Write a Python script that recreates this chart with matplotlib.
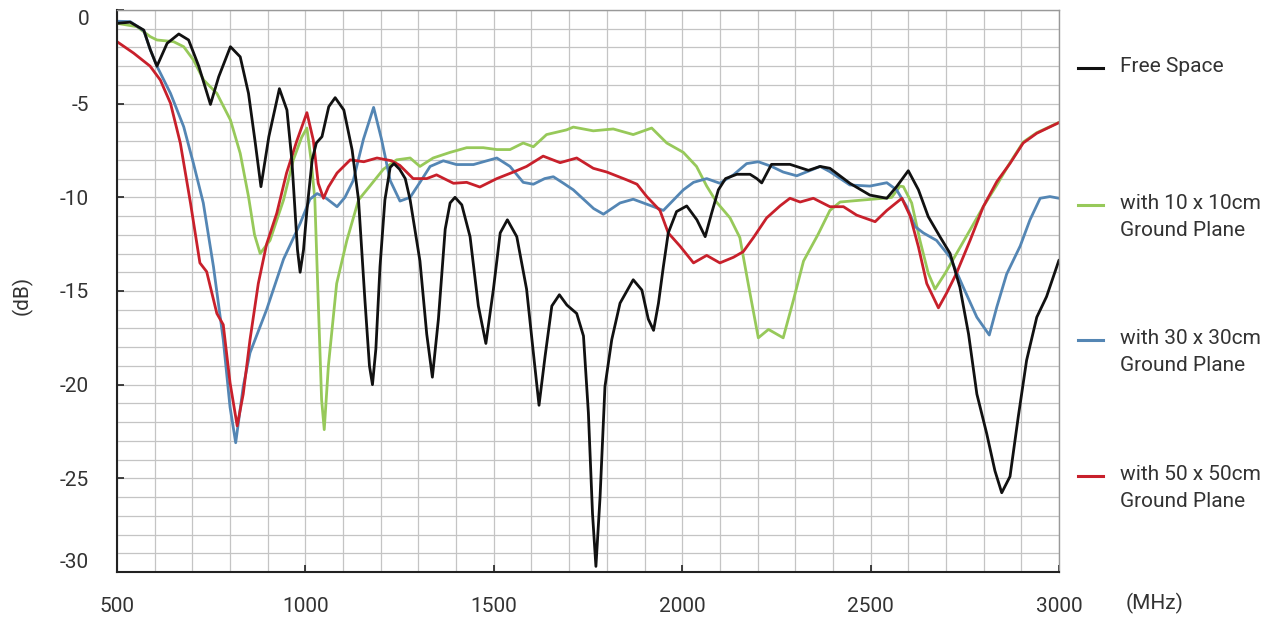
"""Return loss vs frequency: free space and three ground plane sizes."""

import matplotlib

matplotlib.use("Agg")
import matplotlib.pyplot as plt
from matplotlib.lines import Line2D
import numpy as np

plt.rcParams["font.family"] = ["Roboto", "DejaVu Sans"]
plt.rcParams["axes.unicode_minus"] = False

# values (MHz, dB)
free_f = [500, 535, 571, 588, 606, 633, 664, 690, 717, 748, 770, 801, 827, 849, 867,
          882, 903, 931, 951, 964, 979, 986, 995, 1004, 1018, 1029, 1044, 1062, 1079,
          1102, 1124, 1141, 1158, 1170, 1178, 1187, 1198, 1211, 1225, 1235, 1250, 1265,
          1278, 1304, 1322, 1337, 1353, 1371, 1384, 1397, 1415, 1437, 1459, 1479, 1499,
          1517, 1536, 1561, 1587, 1605, 1620, 1636, 1654, 1674, 1694, 1720, 1738, 1751,
          1762, 1771, 1782, 1795, 1813, 1835, 1870, 1893, 1910, 1924, 1937, 1950, 1963,
          1985, 2012, 2039, 2061, 2078, 2096, 2115, 2145, 2180, 2198, 2211, 2237, 2286,
          2335, 2366, 2392, 2445, 2498, 2543, 2569, 2600, 2627, 2653, 2684, 2711, 2737,
          2760, 2782, 2808, 2830, 2848, 2870, 2892, 2914, 2941, 2967, 3000]
free_db = [-0.71, -0.65, -1.07, -2.1, -3.0, -1.78, -1.28, -1.6, -3.0, -5.04, -3.56,
           -1.96, -2.5, -4.45, -7.1, -9.43, -6.76, -4.2, -5.34, -8.0, -12.8, -14.0,
           -12.8, -10.7, -8.0, -7.1, -6.76, -5.16, -4.68, -5.34, -7.47, -10.14, -15.5,
           -19.0, -20.0, -18.1, -13.7, -10.14, -8.4, -8.2, -8.5, -9.0, -10.14, -13.4,
           -17.3, -19.6, -16.5, -11.7, -10.3, -10.0, -10.4, -12.1, -15.8, -17.8, -14.9,
           -11.9, -11.2, -12.1, -14.9, -18.3, -21.1, -18.5, -15.8, -15.2, -15.75, -16.2,
           -17.4, -21.5, -26.9, -29.7, -26.0, -20.1, -17.6, -15.65, -14.4, -14.95,
           -16.5, -17.1, -15.65, -13.7, -11.9, -10.76, -10.46, -11.2, -12.1, -10.85,
           -9.6, -9.0, -8.77, -8.77, -9.0, -9.23, -8.24, -8.24, -8.56, -8.35, -8.45,
           -9.25, -9.88, -10.05, -9.43, -8.58, -9.6, -11.03, -12.1, -13.0, -14.8, -17.3,
           -20.5, -22.6, -24.6, -25.77, -24.9, -21.7, -18.7, -16.4, -15.3, -13.35]

g10_f = [500, 553, 588, 606, 650, 677, 703, 730, 765, 801, 827, 849, 865, 880, 906,
         942, 968, 990, 1004, 1015, 1025, 1034, 1043, 1050, 1061, 1083, 1110, 1141,
         1171, 1207, 1242, 1278, 1304, 1339, 1384, 1428, 1472, 1508, 1543, 1578, 1605,
         1640, 1693, 1711, 1764, 1817, 1870, 1919, 1959, 2003, 2038, 2065, 2091, 2127,
         2153, 2176, 2202, 2229, 2268, 2295, 2322, 2360, 2392, 2419, 2481, 2534, 2556,
         2578, 2587, 2609, 2631, 2653, 2671, 2698, 2728, 2764, 2799, 2835, 2870, 2905,
         2941, 3000]
g10_db = [-0.71, -0.89, -1.42, -1.6, -1.69, -1.96, -2.67, -3.74, -4.45, -5.87, -7.65,
          -9.96, -12.0, -13.0, -12.3, -10.14, -8.0, -6.8, -6.3, -8.0, -10.1, -15.5,
          -20.8, -22.4, -19.0, -14.6, -12.3, -10.14, -9.4, -8.5, -8.0, -7.9, -8.35,
          -7.9, -7.6, -7.35, -7.35, -7.45, -7.45, -7.1, -7.3, -6.65, -6.4, -6.25, -6.45,
          -6.35, -6.65, -6.3, -7.1, -7.6, -8.35, -9.4, -10.25, -11.1, -12.15, -14.7,
          -17.5, -17.05, -17.5, -15.5, -13.4, -12.0, -10.7, -10.25, -10.14, -10.05,
          -10.0, -9.4, -9.43, -10.3, -12.3, -14.05, -14.9, -14.05, -13.0, -11.74,
          -10.5, -9.34, -8.15, -7.05, -6.55, -6.0]

g30_f = [500, 535, 571, 588, 606, 642, 677, 703, 729, 756, 782, 800, 815, 835, 853,
         897, 942, 986, 1012, 1031, 1052, 1084, 1105, 1127, 1154, 1181, 1202, 1225,
         1251, 1278, 1304, 1331, 1366, 1401, 1446, 1508, 1543, 1578, 1605, 1635, 1658,
         1685, 1711, 1738, 1765, 1791, 1835, 1870, 1924, 1950, 2003, 2030, 2065, 2100,
         2136, 2171, 2202, 2237, 2268, 2304, 2348, 2366, 2392, 2445, 2498, 2543, 2569,
         2596, 2618, 2640, 2675, 2711, 2746, 2782, 2815, 2835, 2861, 2897, 2923, 2950,
         2976, 3000]
g30_db = [-0.6, -0.62, -1.1, -2.1, -3.0, -4.45, -6.23, -8.2, -10.3, -13.7, -17.6, -21.2,
          -23.1, -20.1, -18.3, -16.0, -13.3, -11.4, -10.1, -9.8, -10.0, -10.5, -10.0,
          -9.1, -6.9, -5.2, -6.9, -9.1, -10.2, -10.0, -9.2, -8.35, -8.05, -8.25, -8.25,
          -7.9, -8.35, -9.2, -9.3, -9.0, -8.9, -9.25, -9.6, -10.1, -10.6, -10.9, -10.3,
          -10.1, -10.5, -10.7, -9.6, -9.2, -9.0, -9.25, -8.8, -8.2, -8.1, -8.35, -8.65,
          -8.85, -8.5, -8.35, -8.63, -9.34, -9.4, -9.22, -9.6, -10.5, -11.56, -11.9,
          -12.3, -13.2, -14.8, -16.4, -17.35, -15.85, -14.1, -12.6, -11.2, -10.05,
          -9.96, -10.05]

g50_f = [500, 544, 588, 615, 642, 668, 695, 720, 738, 765, 782, 800, 819, 835, 853,
         875, 897, 924, 950, 977, 1004, 1021, 1034, 1048, 1061, 1084, 1119, 1155, 1190,
         1229, 1251, 1286, 1322, 1348, 1393, 1428, 1463, 1508, 1552, 1587, 1631, 1676,
         1720, 1764, 1800, 1853, 1880, 1906, 1941, 1963, 1994, 2030, 2065, 2100, 2136,
         2162, 2189, 2224, 2260, 2286, 2313, 2348, 2392, 2428, 2463, 2512, 2543, 2583,
         2605, 2627, 2649, 2680, 2702, 2728, 2764, 2799, 2835, 2870, 2905, 2941, 3000]
g50_db = [-1.69, -2.3, -3.0, -3.74, -4.98, -7.1, -10.3, -13.5, -13.97, -16.2, -16.8,
          -19.9, -22.2, -20.5, -17.6, -14.6, -12.5, -10.85, -8.7, -7.0, -5.48, -6.95,
          -9.25, -10.05, -9.45, -8.7, -8.0, -8.1, -7.9, -8.05, -8.3, -9.0, -9.0, -8.8,
          -9.25, -9.2, -9.45, -9.0, -8.65, -8.35, -7.8, -8.15, -7.9, -8.45, -8.65, -9.07,
          -9.3, -9.96, -10.7, -11.9, -12.6, -13.5, -13.1, -13.5, -13.2, -12.9, -12.15,
          -11.1, -10.45, -10.05, -10.25, -10.05, -10.5, -10.5, -10.95, -11.3, -10.7,
          -10.05, -11.0, -12.65, -14.6, -15.9, -15.1, -14.05, -12.3, -10.5, -9.16,
          -8.19, -7.1, -6.58, -6.01]

series = [
    ("with 10 x 10cm\nGround Plane", g10_f, g10_db, "#97c95a"),
    ("with 30 x 30cm\nGround Plane", g30_f, g30_db, "#5486b4"),
    ("with 50 x 50cm\nGround Plane", g50_f, g50_db, "#c8202b"),
    ("Free Space", free_f, free_db, "#111111"),
]
legend_order = [3, 0, 1, 2]

x_ticks = [500, 1000, 1500, 2000, 2500, 3000]
y_ticks = [0, -5, -10, -15, -20, -25, -30]

W, H = 1278, 619
fig = plt.figure(figsize=(W / 100, H / 100), dpi=100)
ax = fig.add_axes([117 / W, 1 - 572 / H, 942 / W, 562 / H])

for label, f, db, color in series:
    ax.plot(f, db, color=color, lw=2.0, solid_joinstyle="round", solid_capstyle="round")

ax.set_xlim(500, 3000)
ax.set_ylim(-30, 0)
ax.set_xticks(x_ticks)
ax.set_yticks(y_ticks)
ax.set_xticks(np.arange(500, 3001, 100), minor=True)
ax.set_yticks(np.arange(-30, 1, 1), minor=True)
ax.grid(which="both", color="#c4c4c4", lw=0.9)
ax.set_axisbelow(True)
ax.tick_params(which="minor", length=0)
ax.tick_params(which="major", direction="in", length=5, width=1.2, color="#222222",
               labelsize=15, labelcolor="#333333")
ax.tick_params(axis="x", pad=18)
ax.tick_params(axis="y", pad=20)

ylabels = ax.get_yticklabels()
ylabels[0].set_va("top")
ylabels[-1].set_va("bottom")

for side in ("left", "bottom"):
    ax.spines[side].set_color("#222222")
    ax.spines[side].set_linewidth(1.5)
for side in ("top", "right"):
    ax.spines[side].set_color("#999999")
    ax.spines[side].set_linewidth(1.0)

fig.text(22 / W, 1 - 295 / H, "(dB)", rotation=90, ha="center", va="center",
         fontsize=15, color="#333333")
fig.text(1155 / W, 1 - 603 / H, "(MHz)", ha="center", va="center",
         fontsize=15, color="#333333")

# legend drawn beside the plot
legend_y = [68, 205, 340, 476]
for y, i in zip(legend_y, legend_order):
    label, _, _, color = series[i]
    fig.add_artist(Line2D([1078 / W, 1103 / W], [1 - y / H, 1 - y / H],
                          color=color, lw=2.2, transform=fig.transFigure))
    fig.text(1120 / W, 1 - (y - 11) / H, label, ha="left", va="top",
             fontsize=15, color="#333333", linespacing=1.55)

fig.savefig("out.png", dpi=100)
